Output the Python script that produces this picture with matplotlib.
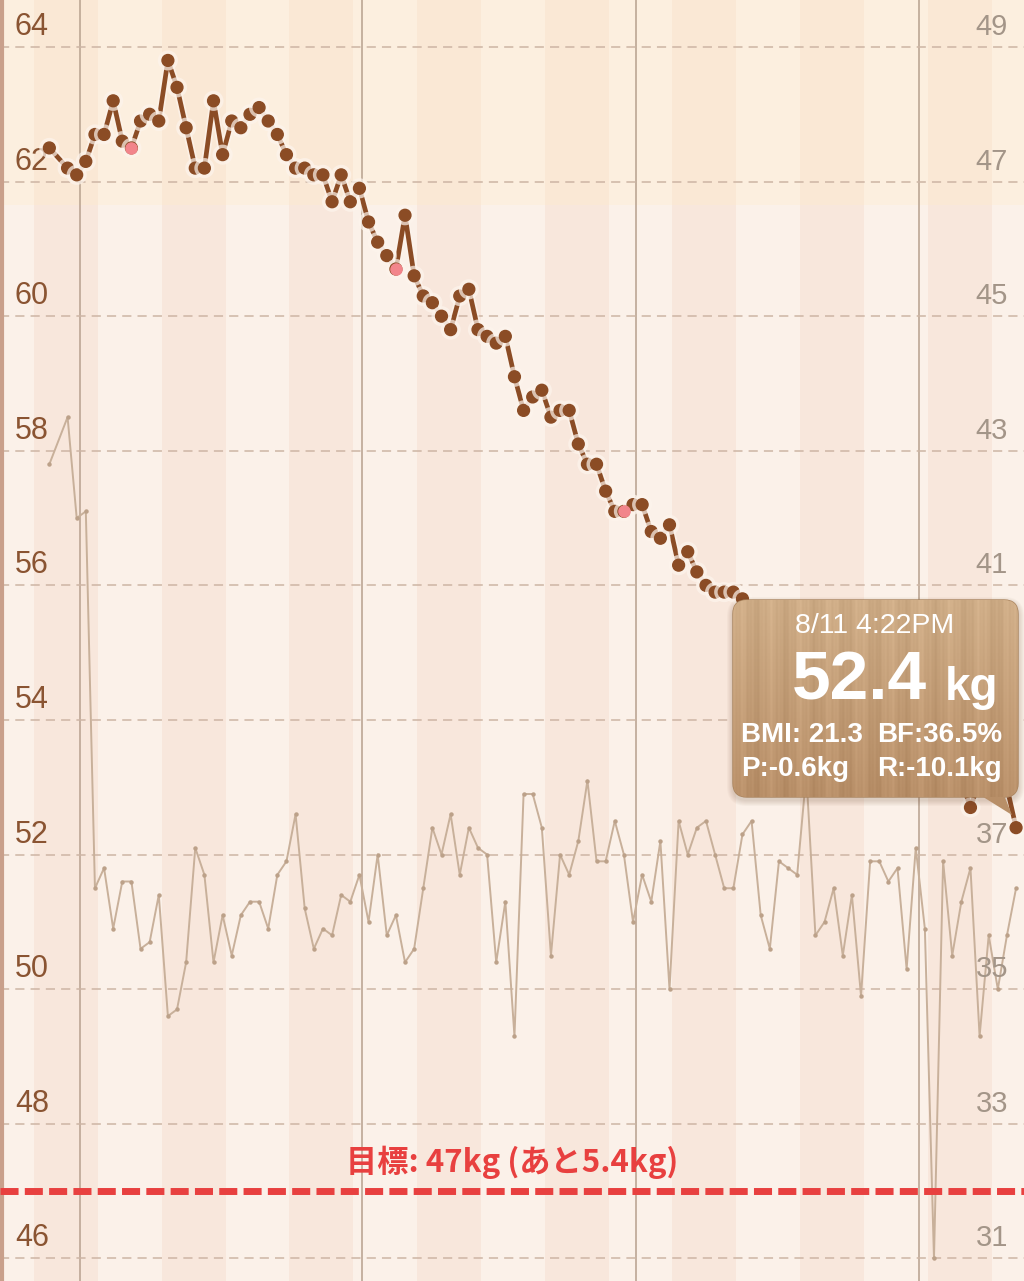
import numpy as np
import matplotlib
matplotlib.use('Agg')
import matplotlib.pyplot as plt
import matplotlib.patheffects as pe
from matplotlib.patches import FancyBboxPatch, Polygon
from matplotlib.lines import Line2D

plt.rcParams['font.family'] = ['Liberation Sans', 'Noto Sans CJK JP', 'DejaVu Sans']

# days counted from 4/27, one reading a day (4/28 missing)
days = [0] + list(range(2, 107))
weight = [62.5, 62.2, 62.1, 62.3, 62.7, 62.7, 63.2, 62.6, 62.5, 62.9,
          63.0, 62.9, 63.8, 63.4, 62.8, 62.2, 62.2, 63.2, 62.4, 62.9,
          62.8, 63.0, 63.1, 62.9, 62.7, 62.4, 62.2, 62.2, 62.1, 62.1,
          61.7, 62.1, 61.7, 61.9, 61.4, 61.1, 60.9, 60.7, 61.5, 60.6,
          60.3, 60.2, 60.0, 59.8, 60.3, 60.4, 59.8, 59.7, 59.6, 59.7,
          59.1, 58.6, 58.8, 58.9, 58.5, 58.6, 58.6, 58.1, 57.8, 57.8,
          57.4, 57.1, 57.1, 57.2, 57.2, 56.8, 56.7, 56.9, 56.3, 56.5,
          56.2, 56.0, 55.9, 55.9, 55.9, 55.8, 55.6, 55.5, 55.5, 55.3,
          55.3, 55.1, 55.0, 54.9, 54.8, 54.7, 54.5, 54.4, 54.4, 54.2,
          54.0, 53.9, 53.8, 53.7, 53.6, 53.5, 53.4, 53.3, 53.2, 53.1,
          52.7, 53.1, 53.1, 53.0, 53.0, 52.4]
body_fat = [42.8, 43.5, 42.0, 42.1, 36.5, 36.8, 35.9, 36.6, 36.6, 35.6,
            35.7, 36.4, 34.6, 34.7, 35.4, 37.1, 36.7, 35.4, 36.1, 35.5,
            36.1, 36.3, 36.3, 35.9, 36.7, 36.9, 37.6, 36.2, 35.6, 35.9,
            35.8, 36.4, 36.3, 36.7, 36.0, 37.0, 35.8, 36.1, 35.4, 35.6,
            36.5, 37.4, 37.0, 37.6, 36.7, 37.4, 37.1, 37.0, 35.4, 36.3,
            34.3, 37.9, 37.9, 37.4, 35.5, 37.0, 36.7, 37.2, 38.1, 36.9,
            36.9, 37.5, 37.0, 36.0, 36.7, 36.3, 37.2, 35.0, 37.5, 37.0,
            37.4, 37.5, 37.0, 36.5, 36.5, 37.3, 37.5, 36.1, 35.6, 36.9,
            36.8, 36.7, 38.2, 35.8, 36.0, 36.5, 35.5, 36.4, 34.9, 36.9,
            36.9, 36.6, 36.8, 35.3, 37.1, 35.9, 31.0, 36.9, 35.5, 36.3,
            36.8, 34.3, 35.8, 35.0, 35.8, 36.5]
marked_days = [9, 38, 63]
weight_ticks = [46, 48, 50, 52, 54, 56, 58, 60, 62, 64]
fat_ticks = [31, 33, 35, 37, 39, 41, 43, 45, 47, 49]
goal = 47
goal_label = '目標: 47kg (あと5.4kg)'
month_starts = [4, 35, 65, 96]   # 5/1, 6/1, 7/1, 8/1
first_week = -8                  # weeks start on Sunday
tip_date = '8/11 4:22PM'
tip_weight = '52.4'
tip_rows = [('BMI: 21.3', 'BF:36.5%'), ('P:-0.6kg', 'R:-10.1kg')]

W, H = 1024, 1281
t = np.array(days) + 0.68       # readings taken in the afternoon
weight = np.array(weight)
body_fat = np.array(body_fat)
fat_offset = weight_ticks[0] - fat_ticks[0]

fig = plt.figure(figsize=(W / 100, H / 100), dpi=100)
ax = fig.add_axes([0, 0, 1, 1])
ax2 = ax.twinx()
ax.set_zorder(2)
ax2.set_zorder(1)
ax.patch.set_visible(False)

ax.set_xlim(-4.73, 107.55)
ax.set_ylim(45.664, 64.698)
ax2.set_ylim(45.664 - fat_offset, 64.698 - fat_offset)

# weekly background stripes
for k, ws in enumerate(range(first_week, 110, 7)):
    ax2.axvspan(ws, ws + 7, color='#f8e7dc' if k % 2 else '#fbf1e9', lw=0, zorder=0)
ax2.axhspan(61.65 - fat_offset, 70, color='#ffecc8', alpha=0.3, lw=0, zorder=0.5)

# grid and month lines
ax2.set_yticks(fat_ticks)
ax2.grid(axis='y', color='#cdb5a4', lw=1.1, linestyle=(0, (6, 4)))
for m in month_starts:
    ax2.axvline(m, color='#bca694', lw=1.2, zorder=1)

for s in list(ax.spines.values()) + list(ax2.spines.values()):
    s.set_visible(False)
ax.set_xticks([])
ax.set_yticks([])
ax2.tick_params(length=0, labelright=False, labelleft=False)

# body fat (right scale)
ax2.plot(t, body_fat, color='#c8b09a', lw=1.4, marker='o', ms=3.2,
         mfc='#bca189', mec='none', zorder=3)

# axis labels drawn inside the plot
for v in weight_ticks:
    ax.text(15 / W, v + 0.178, str(v), transform=ax.get_yaxis_transform(),
            fontsize=22, color='#8a5432', ha='left', va='baseline')
for v in fat_ticks:
    ax2.text(1008 / W, v + 0.178, str(v), transform=ax2.get_yaxis_transform(),
             fontsize=21, color='#a39588', ha='right', va='baseline', zorder=4)

# goal
ax.axhline(goal, color='#e8403f', lw=5, linestyle=(0, (2.6, 0.9)), zorder=6)
ax.text(0.5, goal + 0.43, goal_label, transform=ax.get_yaxis_transform(),
        family=['Noto Sans CJK JP', 'DejaVu Sans'], fontweight='bold',
        fontsize=22.5, color='#e8403f', ha='center', va='center', zorder=6)

# weight (left scale)
ax.plot(t, weight, color='#8b4c25', lw=3.4, marker='o', ms=8.5, zorder=4,
        path_effects=[pe.withStroke(linewidth=6, foreground='#fdf4ec', alpha=0.7)])
mask = np.isin(days, marked_days)
ax.plot(t[mask], weight[mask], 'o', color='#f2858b', ms=8, zorder=5)

# left edge
fig.add_artist(Line2D([2 / W, 2 / W], [0, 1], transform=fig.transFigure,
                      color='#c9a08b', lw=3))

# tooltip, drawn in pixel space
ov = fig.add_axes([0, 0, 1, 1], zorder=5)
ov.axis('off')
bx, by, bw, bh = 733, 600, 285, 197
for i in range(1, 7):
    ov.add_patch(FancyBboxPatch((bx - i, by - i + 3), bw + 2 * i, bh + 2 * i,
                                boxstyle='round,pad=0,rounding_size=%d' % (14 + i),
                                fc='#6b4a30', ec='none', alpha=0.035, zorder=5))
box = FancyBboxPatch((bx, by), bw, bh, boxstyle='round,pad=0,rounding_size=14',
                     fc='#bf9870', ec='#a9845e', lw=1, zorder=6)
ov.add_patch(box)
tail = Polygon([(980, 795), (1004, 795), (1012, 815)], closed=True,
               fc='#b88f68', ec='none', zorder=6)
ov.add_patch(tail)

# wood grain fill
gx = np.arange(bw)
gy = np.linspace(0, 1, 60)[:, None]
grain = 5 * np.sin(gx * 0.21) + 3 * np.sin(gx * 0.67 + 1.3) + 2 * np.sin(gx * 1.7)
base = np.array([206, 172, 134]) * (1 - gy[..., None]) + np.array([184, 143, 104]) * gy[..., None]
img = np.clip(base + grain[None, :, None], 0, 255) / 255
im = ov.imshow(img, extent=(bx, bx + bw, by + bh, by), aspect='auto', zorder=6.5)
im.set_clip_path(box)
ov.set_xlim(0, W)
ov.set_ylim(H, 0)

txt = dict(color='white', zorder=8)
ov.text(875, 626, tip_date, fontsize=20.5, ha='center', va='center', **txt)
ov.text(792, 700, tip_weight, fontsize=50, fontweight='bold', ha='left', va='baseline', **txt)
ov.text(945, 700, 'kg', fontsize=33, fontweight='bold', ha='left', va='baseline', **txt)
for row, yy in zip(tip_rows, [735, 769]):
    ov.text(741, yy, row[0], fontsize=20, fontweight='bold', ha='left', va='center', **txt)
    ov.text(877, yy, row[1], fontsize=20, fontweight='bold', ha='left', va='center', **txt)

fig.savefig('out.png', dpi=100)
